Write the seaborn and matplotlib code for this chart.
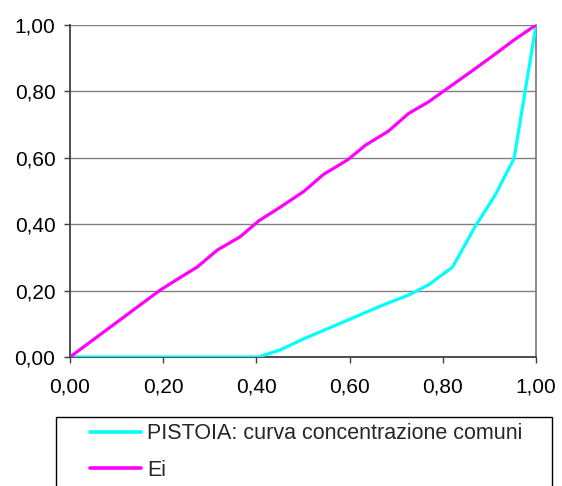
import matplotlib
matplotlib.use("Agg")
import matplotlib.pyplot as plt
import seaborn as sns
import pandas as pd
from matplotlib.patches import Rectangle
from matplotlib.ticker import FuncFormatter

# Data
x_share = [0.0, 0.193, 0.229, 0.273, 0.316, 0.365, 0.405, 0.452, 0.502, 0.544,
           0.596, 0.634, 0.683, 0.726, 0.770, 0.821, 0.869, 0.912, 0.953, 1.0]
curva_pistoia = [0.0, 0.0, 0.0, 0.0, 0.0, 0.0, 0.0, 0.022, 0.055, 0.080,
                 0.111, 0.134, 0.163, 0.186, 0.218, 0.271, 0.392, 0.487, 0.598, 1.0]
ei = [0.0, 0.201, 0.233, 0.271, 0.322, 0.362, 0.410, 0.452, 0.499, 0.550,
      0.594, 0.638, 0.680, 0.733, 0.769, 0.820, 0.868, 0.912, 0.955, 1.0]
series_names = ["PISTOIA: curva concentrazione comuni", "Ei"]
series_colors = ["#00FFFF", "#FF00FF"]
ticks = [0.0, 0.2, 0.4, 0.6, 0.8, 1.0]

df = pd.concat([
    pd.DataFrame({"x": x_share, "y": curva_pistoia, "serie": series_names[0]}),
    pd.DataFrame({"x": x_share, "y": ei, "serie": series_names[1]}),
], ignore_index=True)

sns.set_style("white")
plt.rcParams["font.family"] = ["Liberation Sans", "DejaVu Sans"]

fig = plt.figure(figsize=(5.62, 4.86), dpi=100)
ax = fig.add_axes([70/562, 1-357/486, 466/562, 332/486])

sns.lineplot(data=df, x="x", y="y", hue="serie", sort=False, estimator=None,
             palette=dict(zip(series_names, series_colors)), linewidth=2.3,
             ax=ax, legend=False, zorder=3)

ax.set_xlim(0, 1)
ax.set_ylim(0, 1)
ax.set_xticks(ticks)
ax.set_yticks(ticks)
fmt = FuncFormatter(lambda v, p: f"{v:.2f}".replace(".", ","))
ax.xaxis.set_major_formatter(fmt)
ax.yaxis.set_major_formatter(fmt)
ax.set_xlabel("")
ax.set_ylabel("")
ax.yaxis.grid(True, color="#808080", linewidth=1.0)
ax.xaxis.grid(False)
ax.tick_params(axis="both", which="major", direction="out", length=4.5,
               width=1, color="#404040", labelsize=15, labelcolor="black",
               bottom=True, left=True)
ax.tick_params(axis="y", pad=6)
ax.tick_params(axis="x", pad=10)
for s in ["left", "bottom"]:
    ax.spines[s].set_color("#404040")
    ax.spines[s].set_linewidth(1.3)
ax.spines["right"].set_color("#808080")
ax.spines["right"].set_linewidth(1.3)
ax.spines["top"].set_visible(False)

# Legend box
fig.patches.append(Rectangle((56/562, -0.05), (552-56)/562, 0.05 + 1-417/486,
                             transform=fig.transFigure, facecolor="white",
                             edgecolor="black", linewidth=1.0))
handles = [plt.Line2D([], [], color=c, linewidth=2.6) for c in series_colors]
fig.legend(handles, series_names, loc="upper left",
           bbox_to_anchor=(88/562, 1-421/486), frameon=False, fontsize=15.5,
           handlelength=2.35, handletextpad=0.3, labelspacing=0.72,
           borderpad=0.1, borderaxespad=0)

fig.savefig("out.png", dpi=100)
